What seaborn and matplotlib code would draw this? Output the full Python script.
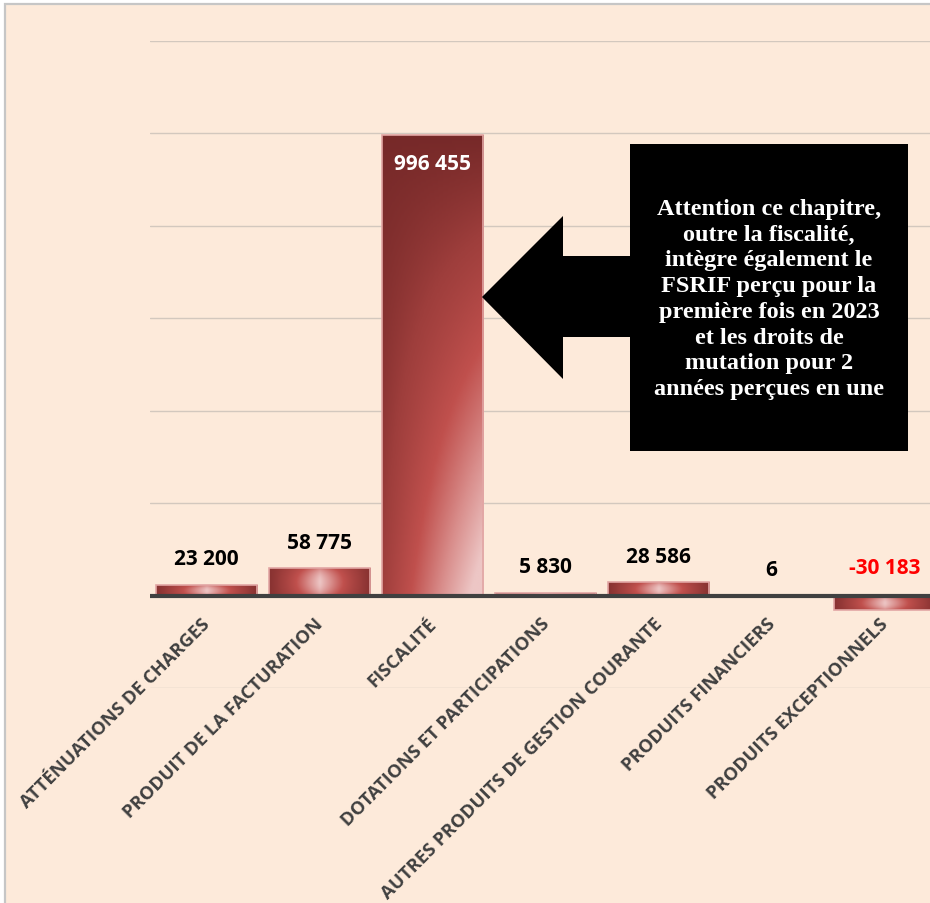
import numpy as np
import seaborn as sns
import matplotlib.pyplot as plt
from matplotlib.colors import LinearSegmentedColormap
from matplotlib.patches import Rectangle, Polygon


categories = [
    'ATTÉNUATIONS DE CHARGES',
    'PRODUIT DE LA FACTURATION',
    'FISCALITÉ',
    'DOTATIONS ET PARTICIPATIONS',
    'AUTRES PRODUITS DE GESTION COURANTE',
    'PRODUITS FINANCIERS',
    'PRODUITS EXCEPTIONNELS',
]
values = [23200, 58775, 996455, 5830, 28586, 6, -30183]
grid_ticks = list(range(-200000, 1200001, 200000))
note_lines = [
    'Attention ce chapitre,',
    'outre la fiscalité,',
    'intègre également le',
    'FSRIF perçu pour la',
    'première fois en 2023',
    'et les droits de',
    'mutation pour 2',
    'années perçues en une',
]

sns.set_style('white')
plt.rcParams['font.family'] = ['Open Sans', 'DejaVu Sans']

W, H = 930, 904
PEACH = '#FDEADA'
fig = plt.figure(figsize=(W / 100, H / 100), dpi=100, facecolor='white')


def px(x, y):
    # pixel position measured from the top-left corner -> figure fraction
    return (x / W, 1 - y / H)


# chart area frame
fig.add_artist(Rectangle((5 / W, -0.1), 1.2, 1.1 - 5 / H, transform=fig.transFigure,
                         facecolor=PEACH, edgecolor='#C6C6C6', lw=1.6, zorder=-10))

ax = fig.add_axes([150 / W, (H - 689) / H, (941 - 150) / W, (689 - 42) / H])
ax.set_facecolor('none')

sns.barplot(x=categories, y=values, width=0.9, color='#C0504D', errorbar=None,
            edgecolor='#E2A6A4', linewidth=1.2, ax=ax)

cmap = LinearSegmentedColormap.from_list(
    'bar', ['#6B2323', '#9E3E3C', '#C0504D', '#D98E8C', '#EDC6C5'])

for p in list(ax.patches):
    x0, y0 = p.get_x(), p.get_y()
    w, h = p.get_width(), p.get_height()
    U, V = np.meshgrid(np.linspace(0, 1, 80), np.linspace(0, 1, 160))
    if abs(h) > 200000:
        t = 0.06 + (0.2 + 0.85 * U) * (1 - V) ** 1.1
    else:
        t = 0.15 + 0.85 * (1 - np.abs(2 * U - 1)) ** 1.4 * (1 - 0.35 * np.abs(2 * V - 1) ** 2)
    im = ax.imshow(np.clip(t, 0, 1), extent=(x0, x0 + w, min(y0, y0 + h), max(y0, y0 + h)),
                   origin='lower', cmap=cmap, vmin=0, vmax=1, aspect='auto',
                   interpolation='bilinear', zorder=0.95)
    im.set_clip_path(p)
    p.set_facecolor('none')

ax.set_xlim(-0.5, len(categories) - 0.5)
ax.set_ylim(grid_ticks[0], grid_ticks[-1])
ax.set_yticks(grid_ticks)
ax.set_yticklabels([])
ax.set_xticks([])
ax.tick_params(left=False, bottom=False)
ax.yaxis.grid(True, color='#D3C8BE', lw=1)
ax.set_axisbelow(True)
sns.despine(ax=ax, left=True, bottom=True)
ax.axhline(0, color='#404040', lw=3, zorder=3)
ax.set_xlabel('')
ax.set_ylabel('')

top = max(values)
for i, (cat, v) in enumerate(zip(categories, values)):
    ax.annotate(cat, xy=(i, 0), xytext=(1, -25), textcoords='offset pixels',
                rotation=45, rotation_mode='anchor', ha='right', va='center',
                fontsize=13.3, fontweight='bold', color='#404040', annotation_clip=False)
    label = f'{v:,}'.replace(',', ' ')
    if v == top:
        ax.annotate(label, xy=(i, v), xytext=(0, -28), textcoords='offset pixels',
                    ha='center', va='center', fontsize=15, fontweight='bold', color='white')
    elif v < 0:
        ax.annotate(label, xy=(i, 0), xytext=(0, 28), textcoords='offset pixels',
                    ha='center', va='center', fontsize=15, fontweight='bold', color='#FF0000')
    else:
        ax.annotate(label, xy=(i, v), xytext=(0, 26), textcoords='offset pixels',
                    ha='center', va='center', fontsize=15, fontweight='bold', color='black')

# callout: black box with a left-pointing arrow towards the FISCALITÉ bar
box_l, box_t, box_r, box_b = 630, 145, 908, 452
fig.add_artist(Rectangle(px(box_l, box_b), (box_r - box_l) / W, (box_b - box_t) / H,
                         transform=fig.transFigure, facecolor='black', lw=0, zorder=5))
arrow = [(482, 298), (563, 217), (563, 257), (box_l + 1, 257),
         (box_l + 1, 338), (563, 338), (563, 380)]
fig.add_artist(Polygon([px(x, y) for x, y in arrow], closed=True, transform=fig.transFigure,
                       facecolor='black', lw=0, zorder=5))
fig.text(*px((box_l + box_r) / 2, (box_t + box_b) / 2 + 1), '\n'.join(note_lines),
         ha='center', va='center', color='white', fontsize=17.5, fontweight='bold',
         family=['Liberation Serif', 'DejaVu Serif'], linespacing=1.3, zorder=6)

fig.savefig('out.png', dpi=100, facecolor='white')
